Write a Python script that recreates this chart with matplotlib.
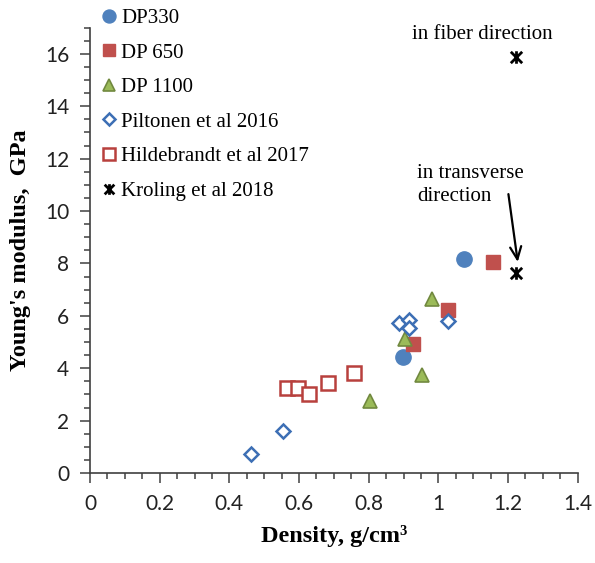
import numpy as np
import matplotlib.pyplot as plt
from matplotlib.path import Path
from matplotlib.ticker import MultipleLocator

# data
dp330_x = [0.899, 1.075]
dp330_y = [4.42, 8.15]
dp650_x = [0.928, 1.027, 1.158]
dp650_y = [4.91, 6.22, 8.07]
dp1100_x = [0.805, 0.905, 0.954, 0.982]
dp1100_y = [2.75, 5.12, 3.75, 6.66]
piltonen_x = [0.463, 0.553, 0.887, 0.916, 0.916, 1.027]
piltonen_y = [0.72, 1.61, 5.74, 5.84, 5.52, 5.81]
hilde_x = [0.566, 0.598, 0.629, 0.684, 0.757]
hilde_y = [3.23, 3.23, 3.03, 3.42, 3.80]
kroling_x = [1.222, 1.224]
kroling_y = [15.87, 7.62]

serif = "Liberation Serif"
sans = "Lato"

star = Path([(-1, -1), (1, 1), (-1, 1), (1, -1), (0, -1.1), (0, 1.1)],
            [Path.MOVETO, Path.LINETO, Path.MOVETO, Path.LINETO, Path.MOVETO, Path.LINETO])

fig = plt.figure(figsize=(5.95, 5.63), dpi=100)
ax = fig.add_axes([90 / 595, 1 - 473 / 563, 487.7 / 595, 445.4 / 563])

ax.plot(dp330_x, dp330_y, "o", ms=11, color="#4F81BD", mec="#4F81BD", label="DP330")
ax.plot(dp650_x, dp650_y, "s", ms=10, color="#C0504D", mec="#C0504D", label="DP 650")
ax.plot(dp1100_x, dp1100_y, "^", ms=10.5, color="#9BBB59", mec="#71893F", mew=1.2, label="DP 1100")
ax.plot(piltonen_x, piltonen_y, "D", ms=7.5, mfc="white", mec="#3D6FB5", mew=1.8,
        label="Piltonen et al 2016")
ax.plot(hilde_x, hilde_y, "s", ms=9.5, mfc="white", mec="#B8403D", mew=1.8,
        label="Hildebrandt et al 2017")
ax.plot(kroling_x, kroling_y, ls="none", marker=star, ms=9, color="black", mew=2,
        label="Kroling et al 2018")

ax.set_xlim(0, 1.4)
ax.set_ylim(0, 17)
ax.xaxis.set_minor_locator(MultipleLocator(0.05))
ax.yaxis.set_minor_locator(MultipleLocator(0.5))
ax.set_xticks(np.arange(0, 1.41, 0.2))
ax.set_xticklabels(["0", "0.2", "0.4", "0.6", "0.8", "1", "1.2", "1.4"])
ax.set_yticks(np.arange(0, 17, 2))
ax.set_yticklabels([str(v) for v in range(0, 17, 2)])

for s in ["top", "right"]:
    ax.spines[s].set_visible(False)
for s in ["left", "bottom"]:
    ax.spines[s].set_color("#404040")
    ax.spines[s].set_linewidth(1.2)
ax.tick_params(which="major", length=7, width=1.1, color="#404040", labelsize=15, pad=8)
ax.tick_params(which="minor", length=4, width=1.1, color="#404040")
for lab in ax.get_xticklabels() + ax.get_yticklabels():
    lab.set_fontfamily(sans)
    lab.set_color("#222222")

ax.set_xlabel("Density, g/cm\u00b3", fontfamily=serif, fontweight="bold", fontsize=17.5, labelpad=8)
ax.set_ylabel("Young's modulus,  GPa", fontfamily=serif, fontweight="bold", fontsize=17.5, labelpad=10)

ax.text(1.125, 16.72, "in fiber direction", fontfamily=serif, fontsize=15, ha="center", va="center")
ax.text(0.94, 11.8, "in transverse\ndirection", fontfamily=serif, fontsize=15, ha="left", va="top",
        linespacing=1.3)
ax.annotate("", xy=(1.229, 7.95), xytext=(1.200, 10.75),
            arrowprops=dict(arrowstyle="->,head_length=0.9,head_width=0.4", lw=1.6, color="black"))

leg = ax.legend(loc="upper left", bbox_to_anchor=(95 / 595, 1.0), bbox_transform=fig.transFigure,
                frameon=False, prop={"family": serif, "size": 15}, handlelength=0.5, handletextpad=0.35,
                labelspacing=0.72, borderaxespad=0, markerscale=0.85)

fig.savefig("out.png", dpi=100)
